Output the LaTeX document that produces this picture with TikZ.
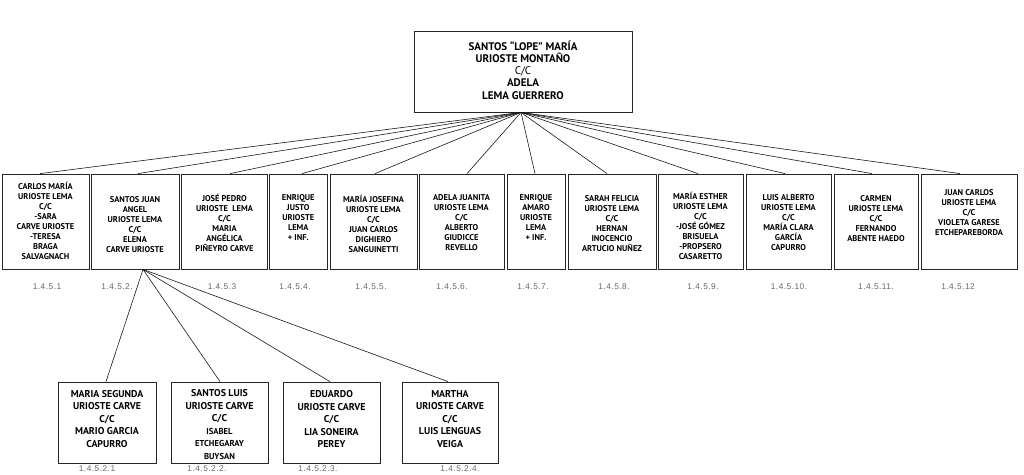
\documentclass[tikz,border=0pt]{standalone}
\usepackage{fontspec}
\setmainfont{PT Sans}
\newfontfamily\labfont[LetterSpace=6]{Liberation Sans}
\begin{document}
\begin{tikzpicture}[x=1pt,y=-1pt,
  box/.style={draw=black!85, line width=0.8pt, inner sep=0pt},
  txt/.style={align=center, inner sep=0pt, font=\bfseries\fontsize{8.4}{10}\selectfont},
  gtxt/.style={align=center, inner sep=0pt, font=\bfseries\fontsize{9.9}{12.5}\selectfont},
  toptxt/.style={align=center, inner sep=0pt, font=\bfseries\fontsize{11}{12.2}\selectfont},
  lab/.style={inner sep=0pt, text=black!60, font=\labfont\fontsize{8.3}{10}\selectfont},
  link/.style={draw=black!90, line width=0.6pt}]
\useasboundingbox (0,0) rectangle (1024,474);
\fill[white] (0,0) rectangle (1024,474);

% top box
\node[box, minimum width=218, minimum height=81] (t) at (523,71.5) {};
\node[toptxt] (tt) at (523,70) {SANTOS “LOPE” MARÍA\\URIOSTE MONTAÑO\\{\mdseries C/C}\\ADELA\\LEMA GUERRERO};
\coordinate (tc) at ([xshift=-2]t.south);

% children boxes
\foreach \n/\cx/\w in {1/45.5/87, 2/135/88, 3/224.5/86, 4/298.25/57.5, 5/373.5/87, 6/461.5/85,
  7/536/58, 8/612/88, 9/700.5/85, 10/788.5/85, 11/876/84, 12/969/96}
  \node[box, minimum width=\w, minimum height=95] (c\n) at (\cx,221.5) {};

\node[txt] (c1t) at (45.5,221) {CARLOS MARÍA\\URIOSTE LEMA\\C/C\\-SARA\\CARVE URIOSTE\\-TERESA\\BRAGA\\SALVAGNACH};
\node[txt] (c2t) at (135,225) {SANTOS JUAN\\ANGEL\\URIOSTE LEMA\\C/C\\ELENA\\CARVE URIOSTE};
\node[txt] (c3t) at (224.5,223) {JOSÉ PEDRO\\URIOSTE\ \ LEMA\\C/C\\MARIA\\ANGÉLICA\\PIÑEYRO CARVE};
\node[txt] (c4t) at (298.25,217.5) {ENRIQUE\\JUSTO\\URIOSTE\\LEMA\\+ INF.};
\node[txt] (c5t) at (373.5,223.5) {MARÍA JOSEFINA\\URIOSTE LEMA\\C/C\\JUAN CARLOS\\DIGHIERO\\SANGUINETTI};
\node[txt] (c6t) at (461.5,222.5) {ADELA JUANITA\\URIOSTE LEMA\\C/C\\ALBERTO\\GIUDICCE\\REVELLO};
\node[txt] (c7t) at (536,218) {ENRIQUE\\AMARO\\URIOSTE\\LEMA\\+ INF.};
\node[txt] (c8t) at (612,224) {SARAH FELICIA\\URIOSTE LEMA\\C/C\\HERNAN\\INOCENCIO\\ARTUCIO NUÑEZ};
\node[txt] (c9t) at (700.5,226) {MARÍA ESTHER\\URIOSTE LEMA\\C/C\\-JOSÉ GÓMEZ\\BRISUELA\\-PROPSERO\\CASARETTO};
\node[txt] (c10t) at (788.5,222.5) {LUIS ALBERTO\\URIOSTE LEMA\\C/C\\MARÍA CLARA\\GARCÍA\\CAPURRO};
\node[txt] (c11t) at (876,219) {CARMEN\\URIOSTE LEMA\\C/C\\FERNANDO\\ABENTE HAEDO};
\node[txt] (c12t) at (969,213) {JUAN CARLOS\\URIOSTE LEMA\\C/C\\VIOLETA GARESE\\ETCHEPAREBORDA};

% connectors from top
\foreach \n/\dx in {1/-5.5, 2/3, 3/5.5, 4/3.75, 5/1.5, 6/5.5, 7/-1, 8/-5, 9/-2.5, 10/-3.5, 11/-4, 12/-9}
  \draw[link] (tc) -- ([xshift=\dx]c\n.north);

% labels
\foreach \n/\lx/\s in {1/47/1.4.5.1, 2/117/1.4.5.2., 3/222/1.4.5.3, 4/295/1.4.5.4., 5/371/1.4.5.5., 6/452/1.4.5.6.,
  7/533/1.4.5.7., 8/614/1.4.5.8., 9/703/1.4.5.9., 10/789/1.4.5.10., 11/876/1.4.5.11., 12/958/1.4.5.12}
  \node[lab] (l\n) at (\lx,287) {\s};

% grandchildren
\foreach \n/\cx/\w in {1/107/98, 2/219.5/97, 3/331.5/97, 4/450/96}
  \node[box, minimum width=\w, minimum height=81] (g\n) at (\cx,422.5) {};
\node[gtxt] (g1t) at (107,419) {MARIA SEGUNDA\\URIOSTE CARVE\\C/C\\MARIO GARCIA\\CAPURRO};
\node[gtxt] (g2t) at (219.5,424.5) {SANTOS LUIS\\URIOSTE CARVE\\C/C\\{\fontsize{8.6}{11}\selectfont ISABEL}\\{\fontsize{8.6}{11}\selectfont ETCHEGARAY}\\{\fontsize{8.6}{11}\selectfont BUYSAN}};
\node[gtxt] (g3t) at (331.5,419) {EDUARDO\\URIOSTE CARVE\\C/C\\LIA SONEIRA\\PEREY};
\node[gtxt] (g4t) at (450,419) {MARTHA\\URIOSTE CARVE\\C/C\\LUIS LENGUAS\\VEIGA};

\coordinate (gc) at ([xshift=8]c2.south);
\foreach \n/\dx in {1/-1, 2/0.5, 3/-1.5, 4/-2}
  \draw[link] (gc) -- ([xshift=\dx]g\n.north);

\foreach \n/\lx/\s in {1/97/1.4.5.2.1, 2/207/1.4.5.2.2., 3/318/1.4.5.2.3., 4/460/1.4.5.2.4.}
  \node[lab] (gl\n) at (\lx,469) {\s};
\end{tikzpicture}
\end{document}
